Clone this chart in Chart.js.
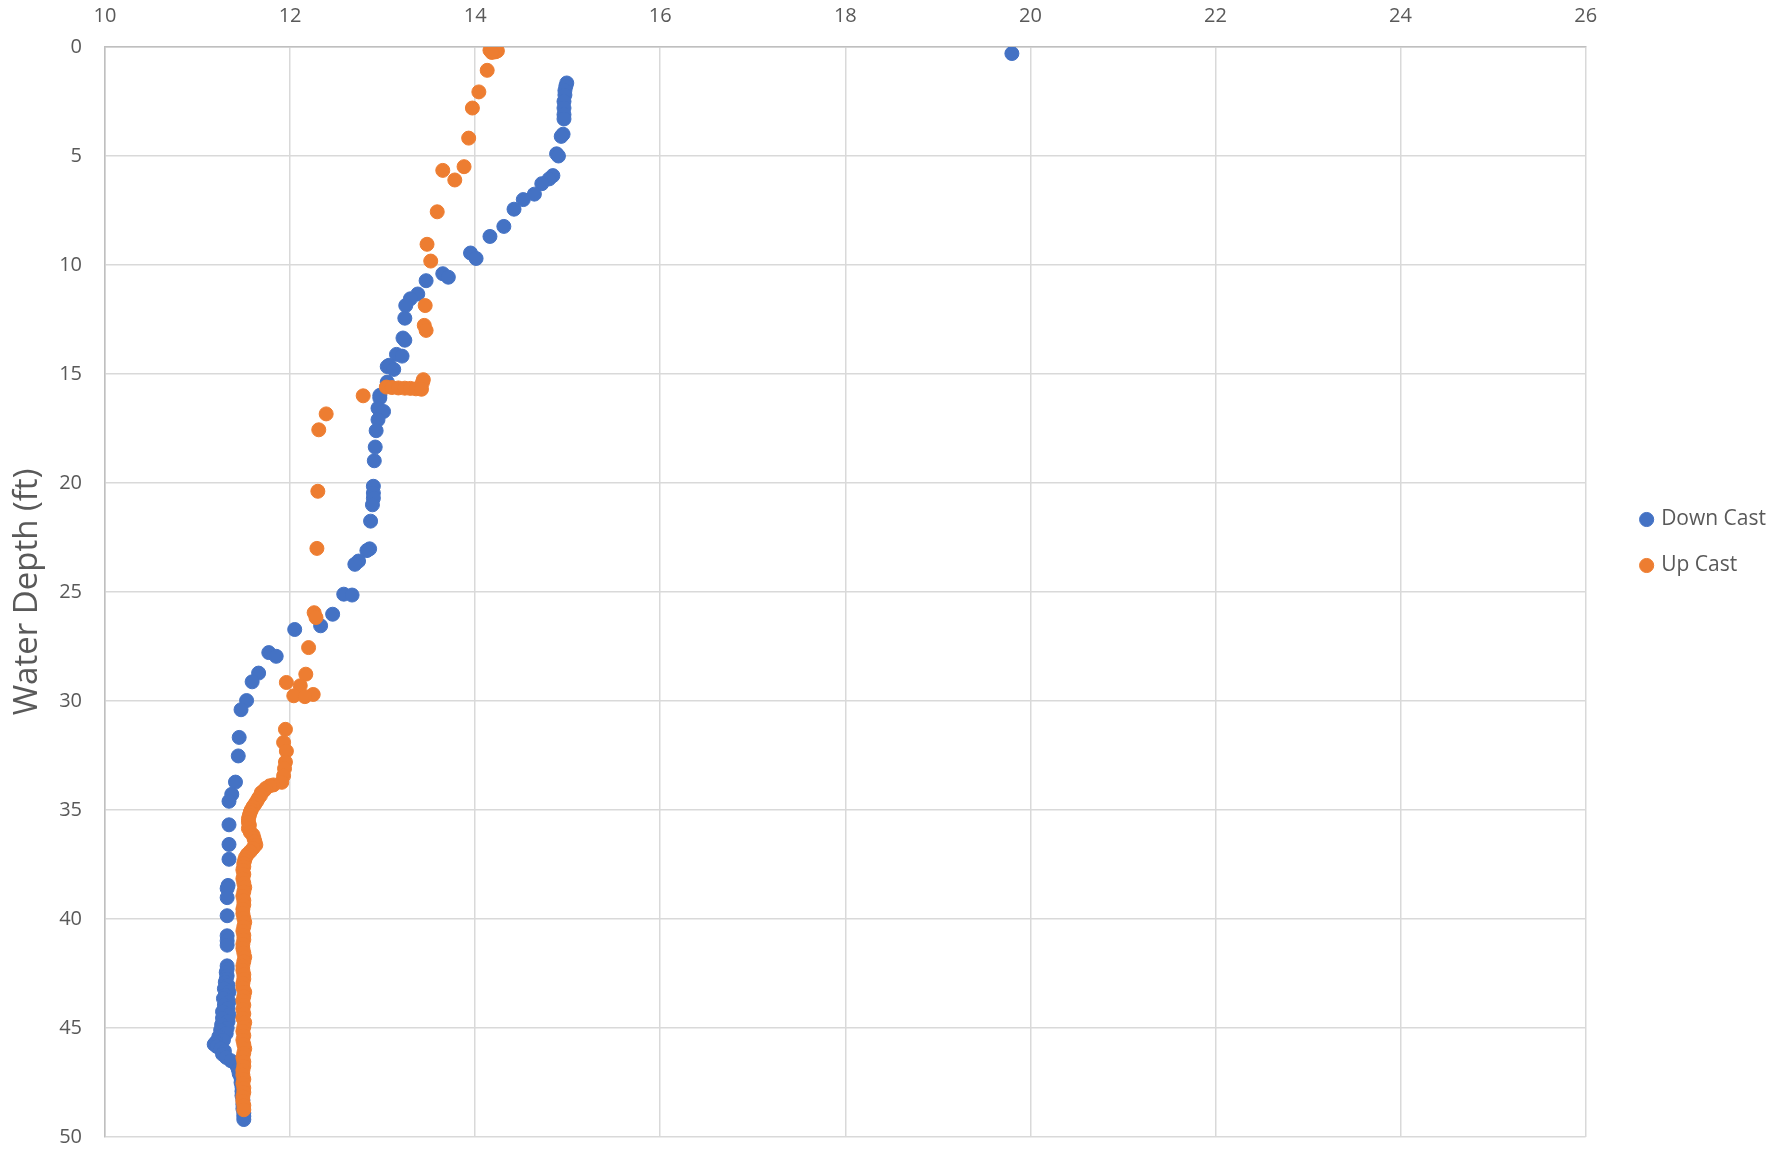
<!DOCTYPE html>
<html>
<head>
<meta charset="utf-8">
<title>Water Depth Profile</title>
<script src="https://cdn.jsdelivr.net/npm/chart.js@4.4.1/dist/chart.umd.min.js"></script>
<style>
  html, body { margin: 0; padding: 0; background: #fff; }
  #wrap { width: 1783px; height: 1152px; }
</style>
</head>
<body>
<div id="wrap"><canvas id="profileChart"></canvas></div>
<script>
// temperature readings vs depth
const seriesNames = ["Down Cast", "Up Cast"];
const seriesColors = ["#4472C4", "#ED7D31"];
const tempTicks = [10, 12, 14, 16, 18, 20, 22, 24, 26];
const depthTicks = [0, 5, 10, 15, 20, 25, 30, 35, 40, 45, 50];

const downDepth = [
  0.3, 1.65, 1.8, 2.0, 2.2, 2.5, 2.8, 3.1, 3.3, 4.0, 4.1, 4.9, 5.0, 5.9, 6.05, 6.27, 6.75, 7.0, 7.44, 8.23,
  8.69, 9.45, 9.7, 10.4, 10.56, 10.72, 11.33, 11.55, 11.86, 12.44, 13.35, 13.45, 14.1, 14.18, 14.6, 14.66, 14.79,
  15.37, 15.5, 15.98, 16.1, 16.57, 16.72, 17.1, 17.6, 18.35, 18.98, 20.15, 20.46, 20.7, 21.0, 21.75, 23.02, 23.1,
  23.58, 23.73, 25.1, 25.14, 26.02, 26.55, 26.72, 27.78, 27.95, 28.72, 29.12, 29.98, 30.4, 31.67, 32.52, 33.72,
  34.28, 34.6, 35.68, 36.58, 37.26, 38.46, 38.6, 39.02, 39.85, 40.77, 41.0, 41.2, 42.15, 42.3, 42.45, 42.6, 42.75,
  42.9, 43.05, 43.2, 43.35, 43.5, 43.65, 43.8, 43.95, 44.1, 44.25, 44.4, 44.55, 44.7, 44.85, 45.0, 45.1, 45.25,
  45.4, 45.55, 45.65, 45.75, 45.85, 45.95, 46.05, 46.2, 46.35, 46.5, 46.7, 46.9, 47.1, 47.3, 47.5, 47.7, 47.9,
  48.1, 48.3, 48.5, 48.7, 48.9, 49.05, 49.2
];
const downTemp = [
  19.8, 14.99, 14.98, 14.97, 14.97, 14.96, 14.96, 14.96, 14.96, 14.95, 14.93, 14.88, 14.9, 14.84, 14.8, 14.72, 14.64, 14.52, 14.42, 14.31,
  14.16, 13.95, 14.01, 13.65, 13.71, 13.47, 13.38, 13.3, 13.25, 13.24, 13.22, 13.24, 13.15, 13.21, 13.07, 13.05, 13.12,
  13.05, 13.05, 12.97, 12.97, 12.95, 13.01, 12.95, 12.93, 12.92, 12.91, 12.9, 12.9, 12.9, 12.89, 12.87, 12.86, 12.83,
  12.74, 12.7, 12.58, 12.67, 12.46, 12.33, 12.05, 11.77, 11.85, 11.66, 11.59, 11.53, 11.47, 11.45, 11.44, 11.41,
  11.37, 11.34, 11.34, 11.34, 11.34, 11.33, 11.32, 11.32, 11.32, 11.32, 11.32, 11.32, 11.32, 11.32, 11.31, 11.32, 11.31,
  11.3, 11.33, 11.29, 11.34, 11.3, 11.28, 11.34, 11.29, 11.33, 11.27, 11.34, 11.27, 11.33, 11.26, 11.32, 11.25, 11.31,
  11.23, 11.28, 11.2, 11.18, 11.21, 11.25, 11.29, 11.27, 11.31, 11.36, 11.42, 11.44, 11.45, 11.47, 11.47, 11.48, 11.48,
  11.48, 11.49, 11.49, 11.49, 11.5, 11.5, 11.5
];

const upDepth = [
  0.15, 0.18, 0.2, 0.22, 0.25, 1.07, 2.06, 2.8, 4.18, 5.49, 5.66, 6.1, 7.56, 9.05, 9.82, 11.86, 12.77, 13.0,
  15.26, 15.4, 15.6, 15.62, 15.64, 15.65, 15.66, 15.68, 15.7, 16.0, 16.83, 17.56, 20.38, 23.0, 25.95, 26.17,
  27.55, 28.77, 29.15, 29.3, 29.7, 29.76, 29.8, 31.3, 31.9, 32.3, 32.8, 33.1, 33.43, 33.73, 33.85, 33.89,
  34.0, 34.1, 34.2, 34.34, 34.45, 34.6, 34.73, 34.85, 35.0, 35.1, 35.25, 35.4, 35.56, 35.7, 35.85, 36.02,
  36.15, 36.3, 36.45, 36.6, 36.75, 36.9, 37.03, 37.16, 37.3, 37.45, 37.6,
  37.75, 37.95, 38.15, 38.35, 38.55, 38.75, 38.95, 39.15, 39.35, 39.55, 39.75, 39.95, 40.15, 40.35,
  40.55, 40.75, 40.95, 41.15, 41.35, 41.55, 41.75, 41.95, 42.15, 42.35, 42.55, 42.75, 42.95, 43.15,
  43.35, 43.55, 43.75, 43.95, 44.15, 44.35, 44.55, 44.75, 44.95, 45.15, 45.35, 45.55, 45.75, 45.95,
  46.15, 46.35, 46.55, 46.75, 46.95, 47.15, 47.35, 47.55, 47.75, 47.95, 48.15, 48.35, 48.55, 48.75
];
const upTemp = [
  14.16, 14.24, 14.2, 14.22, 14.18, 14.13, 14.04, 13.97, 13.93, 13.88, 13.65, 13.78, 13.59, 13.48, 13.52, 13.46, 13.45, 13.47,
  13.44, 13.43, 13.04, 13.1, 13.17, 13.24, 13.3, 13.36, 13.42, 12.79, 12.39, 12.31, 12.3, 12.29, 12.26, 12.28,
  12.2, 12.17, 11.96, 12.11, 12.25, 12.04, 12.16, 11.95, 11.93, 11.96, 11.95, 11.94, 11.93, 11.91, 11.82, 11.78,
  11.74, 11.72, 11.69, 11.68, 11.66, 11.64, 11.62, 11.6, 11.58, 11.57, 11.56, 11.55, 11.55, 11.56, 11.55, 11.57,
  11.6, 11.61, 11.62, 11.63, 11.6, 11.57, 11.54, 11.52, 11.51, 11.5, 11.5,
  11.49, 11.5, 11.49, 11.5, 11.51, 11.5, 11.49, 11.5, 11.5, 11.49, 11.49, 11.5, 11.51, 11.5,
  11.49, 11.5, 11.5, 11.49, 11.49, 11.5, 11.51, 11.5, 11.49, 11.49, 11.5, 11.5, 11.49, 11.49,
  11.51, 11.5, 11.49, 11.5, 11.49, 11.5, 11.49, 11.51, 11.5, 11.49, 11.5, 11.49, 11.5, 11.51,
  11.5, 11.49, 11.5, 11.5, 11.49, 11.49, 11.5, 11.49, 11.5, 11.5, 11.49, 11.49, 11.5, 11.5
];

const textColor = "#595959";
const gridColor = "#D9D9D9";
const fontFamily = "'Open Sans', 'Liberation Sans', sans-serif";

function toPoints(temps, depths) {
  return temps.map((t, i) => ({ x: t, y: depths[i] }));
}

// nudge the legend block right of the plot and up a bit, like the Excel original
const legendNudge = {
  id: "legendNudge",
  afterLayout(chart) {
    const lg = chart.legend;
    lg.left += 32;
    lg.right += 32;
    lg.bottom -= 52;
  }
};

new Chart("profileChart", {
  type: "scatter",
  data: {
    datasets: [
      {
        label: seriesNames[0],
        data: toPoints(downTemp, downDepth),
        backgroundColor: seriesColors[0],
        borderColor: seriesColors[0],
        pointRadius: 7,
        pointHoverRadius: 7,
        order: 1
      },
      {
        // up cast sits on top of the down cast, as in Excel
        label: seriesNames[1],
        data: toPoints(upTemp, upDepth),
        backgroundColor: seriesColors[1],
        borderColor: seriesColors[1],
        pointRadius: 7,
        pointHoverRadius: 7,
        order: 0
      }
    ]
  },
  options: {
    responsive: true,
    maintainAspectRatio: false,
    animation: false,
    layout: { padding: { left: 0, top: 0, right: 39, bottom: 15 } },
    plugins: {
      tooltip: { enabled: false },
      legend: {
        position: "right",
        labels: {
          usePointStyle: true,
          pointStyle: "circle",
          boxWidth: 8,
          boxHeight: 10,
          padding: 25,
          color: textColor,
          font: { family: fontFamily, size: 21 },
          sort: (a, b) => a.datasetIndex - b.datasetIndex
        }
      }
    },
    scales: {
      x: {
        type: "linear",
        position: "top",
        min: tempTicks[0],
        max: tempTicks[tempTicks.length - 1],
        afterFit: (scale) => {
          scale.height = 47;
          scale.paddingLeft = 0;
          scale.paddingRight = 0;
        },
        ticks: {
          stepSize: tempTicks[1] - tempTicks[0],
          padding: 19,
          color: textColor,
          font: { family: fontFamily, size: 20 }
        },
        grid: { color: gridColor, lineWidth: 1.5, drawTicks: false },
        border: { color: "#BFBFBF", width: 1.5 }
      },
      y: {
        type: "linear",
        reverse: true,
        min: depthTicks[0],
        max: depthTicks[depthTicks.length - 1],
        afterFit: (scale) => {
          scale.width = 105;
          scale.paddingTop = 0;
          scale.paddingBottom = 0;
        },
        ticks: {
          stepSize: depthTicks[1] - depthTicks[0],
          padding: 23,
          color: textColor,
          font: { family: fontFamily, size: 20 }
        },
        title: {
          display: true,
          text: "Water Depth (ft)",
          color: textColor,
          padding: { top: 8, bottom: 0 },
          font: { family: fontFamily, size: 33 }
        },
        grid: { color: gridColor, lineWidth: 1.5, drawTicks: false },
        border: { color: "#BFBFBF", width: 1.5 }
      }
    }
  },
  plugins: [legendNudge]
});
</script>
</body>
</html>
